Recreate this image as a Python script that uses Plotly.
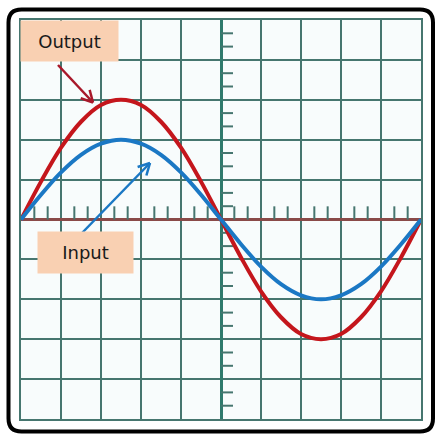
import plotly.graph_objects as go
import math

# ---- data (x and y in screen divisions) ----
x_div = [-5.0, -4.5, -4.0, -3.5, -3.0, -2.5, -2.0, -1.5, -1.0, -0.5, 0.0,
         0.5, 1.0, 1.5, 2.0, 2.5, 3.0, 3.5, 4.0, 4.5, 5.0]
output_vals = [0.0, 0.95, 1.8, 2.45, 2.87, 3.0, 2.87, 2.45, 1.8, 0.95, 0.0,
               -0.95, -1.8, -2.45, -2.87, -3.0, -2.87, -2.45, -1.8, -0.95, 0.0]
input_vals = [0.0, 0.62, 1.18, 1.62, 1.9, 2.0, 1.9, 1.62, 1.18, 0.62, 0.0,
              -0.62, -1.18, -1.62, -1.9, -2.0, -1.9, -1.62, -1.18, -0.62, 0.0]
labels = ["Output", "Input"]

W, H = 441, 440
ML, MR, MT, MB = 21, 20, 20, 21
PW, PH = W - ML - MR, H - MT - MB

def X(px):
    return (px - ML) / PW

def Y(py):
    return (H - MB - py) / PH

GRID = "#46766f"
RED = "#c4161c"
BLUE = "#1b78c4"
PEACH = "#f9d0b2"

fig = go.Figure()
fig.add_trace(go.Scatter(x=x_div, y=output_vals, mode="lines", name=labels[0],
                         line=dict(color=RED, width=4, shape="spline", smoothing=1.0),
                         hoverinfo="skip"))
fig.add_trace(go.Scatter(x=x_div, y=input_vals, mode="lines", name=labels[1],
                         line=dict(color=BLUE, width=4, shape="spline", smoothing=1.0),
                         hoverinfo="skip"))

shapes = []
# small ticks on the centre axes (every third of a division)
for k in range(-15, 16):
    if k % 3 == 0:
        continue
    v = k / 3
    shapes.append(dict(type="line", xref="x", yref="y", x0=v, x1=v, y0=0, y1=0.33,
                       line=dict(color=GRID, width=2), layer="between"))
    shapes.append(dict(type="line", xref="x", yref="y", x0=0, x1=0.3, y0=v, y1=v,
                       line=dict(color=GRID, width=2), layer="between"))

# rounded outer frame
L, R, T, B, r = 8.5, 433.0, 9.5, 431.5, 13
def P(px, py):
    return f"{X(px):.5f},{Y(py):.5f}"
path = (f"M {P(L+r,T)} L {P(R-r,T)} Q {P(R,T)} {P(R,T+r)} L {P(R,B-r)} "
        f"Q {P(R,B)} {P(R-r,B)} L {P(L+r,B)} Q {P(L,B)} {P(L,B-r)} "
        f"L {P(L,T+r)} Q {P(L,T)} {P(L+r,T)} Z")
shapes.append(dict(type="path", xref="paper", yref="paper", path=path,
                   line=dict(color="black", width=4), layer="above"))

# arrows with open V heads
def arrow(x0, y0, x1, y1, color, head=13, ang=28):
    dx, dy = x0 - x1, y0 - y1
    d = math.hypot(dx, dy)
    ux, uy = dx / d, dy / d
    out = [dict(type="line", xref="paper", yref="paper", x0=X(x0), y0=Y(y0),
                x1=X(x1), y1=Y(y1), line=dict(color=color, width=2.5), layer="above")]
    for s in (1, -1):
        a = math.radians(ang * s)
        hx = ux * math.cos(a) - uy * math.sin(a)
        hy = ux * math.sin(a) + uy * math.cos(a)
        out.append(dict(type="line", xref="paper", yref="paper", x0=X(x1), y0=Y(y1),
                        x1=X(x1 + hx * head), y1=Y(y1 + hy * head),
                        line=dict(color=color, width=2.5), layer="above"))
    return out

shapes += arrow(58, 65, 93, 102.5, "#a8182a")
shapes += arrow(82, 233, 150, 163, BLUE)

annotations = [
    dict(xref="paper", yref="paper", x=X(69.5), y=Y(41), xanchor="center", yanchor="middle",
         text=labels[0], showarrow=False, width=95, height=38, bgcolor=PEACH,
         font=dict(family="DejaVu Sans", size=18, color="#1a1a1a")),
    dict(xref="paper", yref="paper", x=X(85.5), y=Y(252.5), xanchor="center", yanchor="middle",
         text=labels[1], showarrow=False, width=93, height=39, bgcolor=PEACH,
         font=dict(family="DejaVu Sans", size=18, color="#1a1a1a")),
]

fig.update_layout(
    width=W, height=H,
    margin=dict(l=ML, r=MR, t=MT, b=MB, pad=0),
    paper_bgcolor="white", plot_bgcolor="#f8fcfc",
    showlegend=False,
    shapes=shapes, annotations=annotations,
    xaxis=dict(range=[-5, 5], dtick=1, tick0=0, showgrid=True, gridcolor=GRID, gridwidth=2,
               showticklabels=False, ticks="", zeroline=True, zerolinecolor="#2f7a6c",
               zerolinewidth=3, showline=True, mirror=True, linecolor=GRID, linewidth=2,
               fixedrange=True),
    yaxis=dict(range=[-5, 5], dtick=1, tick0=0, showgrid=True, gridcolor=GRID, gridwidth=2,
               showticklabels=False, ticks="", zeroline=True, zerolinecolor="#8a4a48",
               zerolinewidth=3, showline=True, mirror=True, linecolor=GRID, linewidth=2,
               fixedrange=True),
)

fig.write_html("out.html", config={"displayModeBar": False},
               post_script="document.body.style.margin='0';document.body.style.padding='0';")
